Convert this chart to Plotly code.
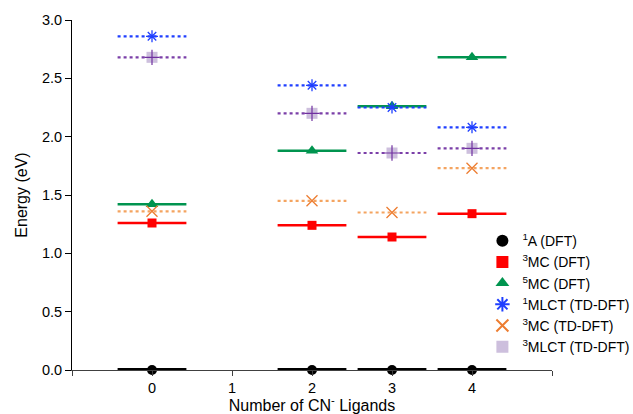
import plotly.graph_objects as go

ligands = [0, 2, 3, 4]
a1_dft = [0.0, 0.0, 0.0, 0.0]
mc3_dft = [1.26, 1.24, 1.14, 1.34]
mc5_dft = [1.42, 1.88, 2.26, 2.68]
mlct1_td = [2.86, 2.44, 2.25, 2.08]
mc3_td = [1.36, 1.45, 1.35, 1.73]
mlct3_td = [2.68, 2.20, 1.86, 1.90]
x_ticks = [0, 1, 2, 3, 4]

HALF = 0.43
FONT = "Liberation Sans, Arial, sans-serif"

series = [
    dict(name="<sup>1</sup>A (DFT)", y=a1_dft, lc="#000000", lw=4, dash="solid",
         sym="circle", mc="#000000", mlc="#000000", size=10, mlw=0),
    dict(name="<sup>3</sup>MC (DFT)", y=mc3_dft, lc="#FF0000", lw=2.5, dash="solid",
         sym="square", mc="#FF0000", mlc="#FF0000", size=9, mlw=0),
    dict(name="<sup>5</sup>MC (DFT)", y=mc5_dft, lc="#00944F", lw=2.5, dash="solid",
         sym="triangle-up", mc="#00944F", mlc="#00944F", size=11, mlw=0),
    dict(name="<sup>1</sup>MLCT (TD-DFT)", y=mlct1_td, lc="#1F3FFF", lw=2.2, dash="dot",
         sym="asterisk-open", mc="#1F3FFF", mlc="#1F3FFF", size=10, mlw=1.3),
    dict(name="<sup>3</sup>MC (TD-DFT)", y=mc3_td, lc="#F4A460", lw=2.2, dash="dot",
         sym="x-thin-open", mc="#ED7D31", mlc="#ED7D31", size=11, mlw=1.3),
    dict(name="<sup>3</sup>MLCT (TD-DFT)", y=mlct3_td, lc="#7B3FA8", lw=2.2, dash="dot",
         sym="square", mc="#CDBFDD", mlc="#CDBFDD", size=11, mlw=0),
]

fig = go.Figure()

# level lines (drawn through data positions)
for s in series:
    xs, ys = [], []
    for xv, yv in zip(ligands, s["y"]):
        xs += [xv - HALF, xv + HALF, None]
        ys += [yv, yv, None]
    fig.add_trace(go.Scatter(x=xs, y=ys, mode="lines", showlegend=False, cliponaxis=False,
                             line=dict(color=s["lc"], width=s["lw"], dash=s["dash"]),
                             hoverinfo="skip"))

# markers (legend items)
for s in series:
    fig.add_trace(go.Scatter(x=ligands, y=s["y"], mode="markers", name=s["name"],
                             cliponaxis=False,
                             marker=dict(symbol=s["sym"], color=s["mc"], size=s["size"],
                                         line=dict(color=s["mlc"], width=s["mlw"]))))

# purple cross drawn over the light square of the 3MLCT markers
fig.add_trace(go.Scatter(x=ligands, y=mlct3_td, mode="markers", showlegend=False,
                         cliponaxis=False,
                         marker=dict(symbol="cross-thin-open", size=11, color="#7030A0",
                                     line=dict(color="#7030A0", width=1.2)),
                         hoverinfo="skip"))

fig.update_layout(
    width=633, height=414,
    margin=dict(l=72, r=81, t=20, b=44, autoexpand=False),
    plot_bgcolor="white", paper_bgcolor="white",
    font=dict(family=FONT, size=14, color="#000000"),
    legend=dict(x=0.855, y=0.414, xanchor="left", yanchor="top",
                bgcolor="rgba(0,0,0,0)", font=dict(size=14),
                tracegroupgap=0, itemsizing="constant"),
    xaxis=dict(range=[-1, 5], tickmode="array", tickvals=[-1] + x_ticks + [5],
               ticktext=[""] + [str(v) for v in x_ticks] + [""],
               showgrid=False, zeroline=False, showline=True, linecolor="#404040",
               linewidth=1, ticks="outside", ticklen=5, tickcolor="#404040",
               tickfont=dict(size=14.5),
               title=dict(text="Number of CN<sup>-</sup> Ligands", standoff=4,
                          font=dict(size=16))),
    yaxis=dict(range=[0, 3.0], tickvals=[0, 0.5, 1.0, 1.5, 2.0, 2.5, 3.0],
               tickformat=".1f", showgrid=False, zeroline=False, showline=True,
               linecolor="#000000", linewidth=1, ticks="outside", ticklen=6,
               tickcolor="#000000", tickfont=dict(size=14.5),
               title=dict(text="Energy (eV)", standoff=10, font=dict(size=16))),
)

fig.write_html("out.html", config={"displayModeBar": False},
               post_script="document.body.style.margin='0';document.body.style.overflow='hidden';")
